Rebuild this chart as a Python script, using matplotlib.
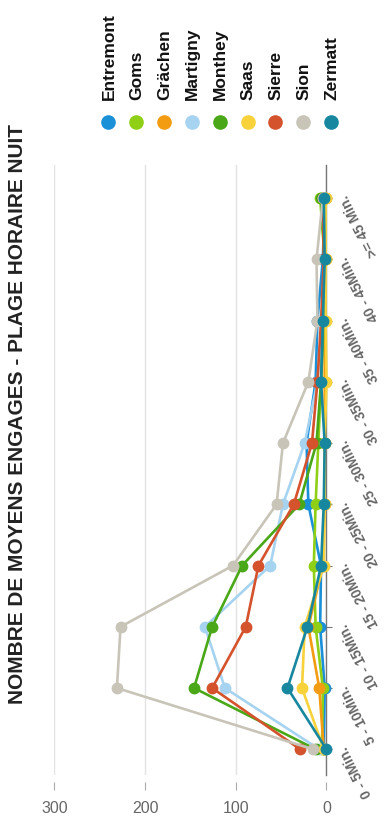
import numpy as np
import matplotlib as mpl
mpl.use('agg')
import matplotlib.pyplot as plt
from matplotlib.transforms import offset_copy

plt.rcParams['font.family'] = ['Liberation Sans', 'DejaVu Sans']

# data (chart is drawn rotated: categories run bottom -> top, values right -> left)
categories = ['0 - 5Min.', '5 - 10Min.', '10 - 15Min.', '15 - 20Min.', '20 - 25Min.',
              '25 - 30Min.', '30 - 35Min.', '35 - 40Min.', '40 - 45Min.', '>= 45 Min.']
names = ['Entremont', 'Goms', 'Gr\u00e4chen', 'Martigny', 'Monthey', 'Saas', 'Sierre', 'Sion', 'Zermatt']
entremont = [3, 2, 7, 6, 20, 22, 12, 10, 4, 2]
goms = [5, 4, 12, 14, 12, 9, 6, 4, 2, 7]
grachen = [3, 8, 20, 4, 2, 2, 2, 2, 1, 1]
martigny = [8, 112, 134, 62, 48, 24, 10, 5, 2, 2]
monthey = [12, 146, 126, 93, 30, 11, 6, 3, 2, 6]
saas = [3, 27, 24, 3, 2, 2, 0, 1, 1, 1]
sierre = [29, 126, 89, 75, 36, 16, 10, 6, 3, 4]
sion = [15, 231, 227, 103, 55, 48, 20, 10, 11, 4]
zermatt = [0, 43, 21, 6, 3, 2, 6, 4, 2, 3]
series = [entremont, goms, grachen, martigny, monthey, saas, sierre, sion, zermatt]
colors = ['#1a90d8', '#8fd016', '#f39c12', '#a6d3f0', '#4aa818',
          '#f7d23a', '#d4522c', '#c8c4b8', '#1787a0']
value_ticks = [0, 100, 200, 300]

W, H = 385, 835
fig = plt.figure(figsize=(W / 100, H / 100), dpi=100)


def px(x0, y0, w, h):
    return [x0 / W, 1 - (y0 + h) / H, w / W, h / H]


ax = fig.add_axes(px(54.3, 165, 272.2, 610))
idx = np.arange(len(categories))
for k, (vals, col) in enumerate(zip(series, colors)):
    ax.plot(vals, idx, '-o', color=col, lw=1.9, ms=7.5, mec=col,
            solid_joinstyle='round', clip_on=False, zorder=3 + k)

ax.set_xlim(300, 0)
ax.set_ylim(-0.42, 9.54)
ax.set_xticks(value_ticks)
ax.set_xticklabels([str(v) for v in value_ticks], rotation=90, fontweight='bold')
ax.grid(axis='x', color='#e3e3e3', lw=1)
ax.set_axisbelow(True)
for s in ['top', 'left', 'bottom']:
    ax.spines[s].set_visible(False)
ax.spines['right'].set_color('#777777')
ax.spines['right'].set_linewidth(1)
ax.spines['bottom'].set_position(('outward', 5))
ax.tick_params(axis='x', length=6, color='#aaaaaa', pad=8, labelsize=11.5, labelcolor='#666666')
ax.yaxis.tick_right()
ax.set_yticks(idx)
ax.tick_params(axis='y', length=4, color='#777777', labelright=False)

# category labels, rotated
tr = offset_copy(ax.transData, fig, x=17, y=2, units='dots')
for i, c in enumerate(categories):
    ax.text(0, i, c, transform=tr, rotation=117, rotation_mode='anchor',
            ha='right', va='center', fontsize=10, fontweight='bold',
            color='#666666', clip_on=False)

# title
fig.text(18 / W, 1 - 414.5 / H, 'NOMBRE DE MOYENS ENGAGES - PLAGE HORAIRE NUIT',
         rotation=90, ha='center', va='center', fontsize=15, fontweight='bold',
         color='#222222')

# legend drawn by hand (rotated)
lax = fig.add_axes([0, 0, 1, 1])
lax.set_xlim(0, W)
lax.set_ylim(H, 0)
lax.axis('off')
for i, (n, col) in enumerate(zip(names, colors)):
    x = 108 + 27.9 * i
    lax.plot([x], [122], 'o', color=col, ms=9.5)
    lax.text(x + 1, 100, n, rotation=90, ha='center', va='bottom',
             fontsize=12.5, fontweight='bold', color='#111111')

fig.savefig('out.png', dpi=100)
